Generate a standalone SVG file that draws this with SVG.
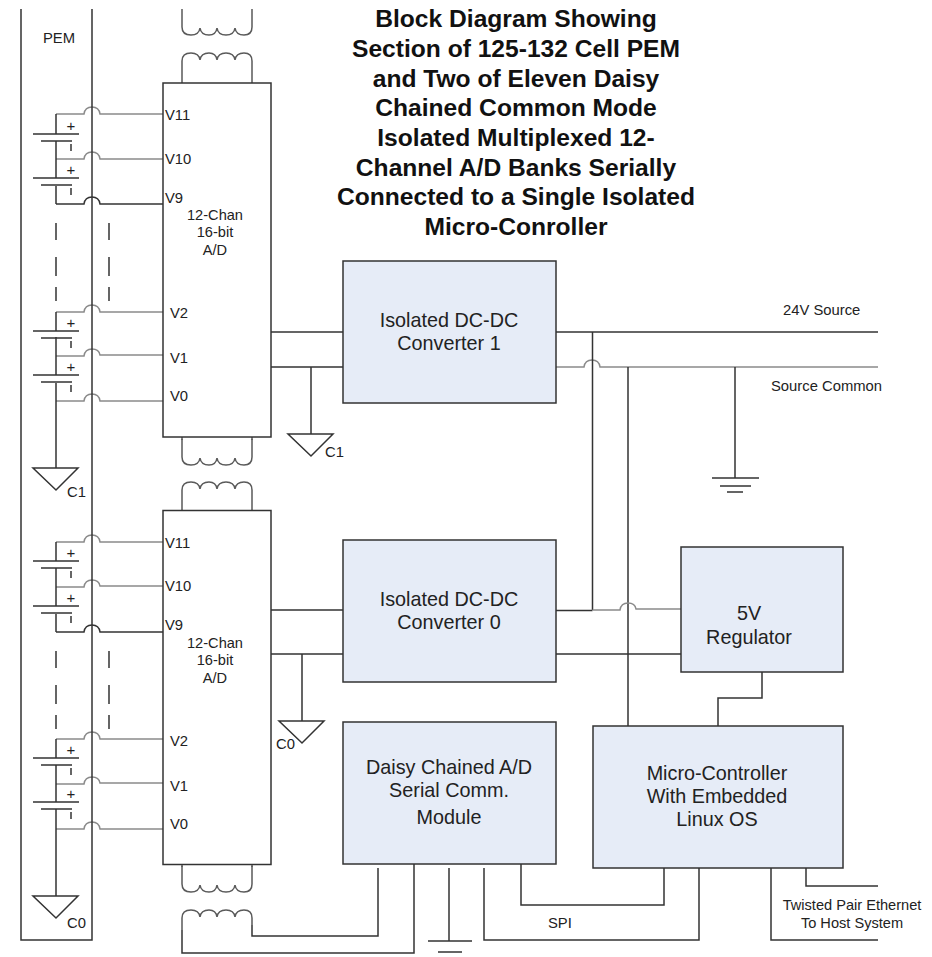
<svg xmlns="http://www.w3.org/2000/svg" width="932" height="957" viewBox="0 0 932 957">
<defs>
<style>
text{font-family:"Liberation Sans",Arial,sans-serif;fill:#222}
.w{fill:none;stroke:#333;stroke-width:1.5}
.g{fill:none;stroke:#8a8a8a;stroke-width:1.5}
.c{fill:none;stroke:#5a5a5a;stroke-width:1.5}
.b{fill:#e6ecf7;stroke:#333;stroke-width:1.5}
.a{fill:#fff;stroke:#333;stroke-width:1.5}
.s{font-size:14.8px}
.l{font-size:19.8px;text-anchor:middle}
.m{font-size:14.6px;text-anchor:middle}
.t{font-size:24.6px;font-weight:bold;text-anchor:middle;fill:#111}
.p{font-size:15px;text-anchor:middle}
</style>
<path id="coilD" class="c" d="M0 0V18Q0 26 9 26Q17 26 18 19Q19 26 27 26Q34 26 35 19Q36 26 44 26Q52 26 53 19Q54 26 62 26Q70 26 70 18V0"/>
<path id="coilU" class="c" d="M0 30V8Q0 0 9 0Q17 0 18 7Q19 0 27 0Q34 0 35 7Q36 0 44 0Q52 0 53 7Q54 0 62 0Q70 0 70 8V30"/>
<g id="cell">
<path class="w" d="M33 0H79M41 7H72"/>
<text class="p" x="71" y="-3">+</text>
<path class="w" d="M71 10V17"/>
</g>
</defs>

<g id="connectors">
<path class="g" d="M56 114H84Q85 107 92 107Q99 107 100 114H163"/>
<path class="g" d="M56 159H84Q85 152 92 152Q99 152 100 159H163"/>
<path class="w" d="M56 204H84Q85 197 92 197Q99 197 100 204H163"/>
<path class="w" d="M56 114V134M56 141V178M56 186V204"/>
<path class="w" d="M56 223V240M56 257V276M56 287V301M109 223V240M109 257V276M109 287V301M181 223V240M181 257V276M181 287V301"/>
<path class="g" d="M56 312H84Q85 305 92 305Q99 305 100 312H163"/>
<path class="g" d="M56 356H84Q85 349 92 349Q99 349 100 355H163"/>
<path class="g" d="M56 401H84Q85 394 92 394Q99 394 100 401H163"/>
<path class="w" d="M56 312V331M56 337V375M56 383V468"/>
<path class="g" d="M56 542H84Q85 535 92 535Q99 535 100 542H163"/>
<path class="g" d="M56 587H84Q85 580 92 580Q99 580 100 586H163"/>
<path class="w" d="M56 632H84Q85 625 92 625Q99 625 100 632H163"/>
<path class="w" d="M56 542V561M56 568V606M56 614V632"/>
<path class="w" d="M56 651V668M56 685V704M56 715V729M109 651V668M109 685V704M109 715V729M181 651V668M181 685V704M181 715V729"/>
<path class="g" d="M56 739H84Q85 732 92 732Q99 732 100 739H163"/>
<path class="g" d="M56 784H84Q85 777 92 777Q99 777 100 783H163"/>
<path class="g" d="M56 829H84Q85 822 92 822Q99 822 100 829H163"/>
<path class="w" d="M56 739V758M56 765V802M56 809V896"/>
<path class="w" d="M271 332H343M271 367H343M311 367V434M271 610H343M271 654H343M302 654V721"/>
<path class="w" d="M556 332H878"/>
<path class="g" d="M556 367H584Q585 360 592 360Q599 360 600 367H878"/>
<path class="w" d="M592.500 332V610M556 610.500H592.500M628 367V726"/>
<path class="g" d="M592.500 610H620Q621 603 628 603Q635 603 636 609H681"/>
<path class="w" d="M556 654H681M735 367V478M712 478H759M720 486H751M727 492H743"/>
<path class="w" d="M762 672V698H718V726"/>
<path class="w" d="M252 925V936H378V868M182 930V953H414V864"/>
<path class="w" d="M449 868V941M428 941H472M438 952H462"/>
<path class="w" d="M484 868V940H699V868M521 864V905H664V868M771 868V940H878M806 868V886H878"/>
<path class="c" d="M182 437V440M252 437V440M182 864V867M252 864V867"/>
</g>

<g id="pem">
<path class="w" d="M21 9V940H92V9"/>
<text class="s" x="43" y="43">PEM</text>
</g>

<g id="cells">
<use href="#cell" y="134"/><use href="#cell" y="178"/><use href="#cell" y="331"/><use href="#cell" y="375"/>
<use href="#cell" y="561"/><use href="#cell" y="606"/><use href="#cell" y="758"/><use href="#cell" y="802"/>
</g>

<g id="coils">
<use href="#coilD" x="182" y="9"/>
<use href="#coilU" x="182" y="53"/>
<use href="#coilD" x="182" y="439"/>
<use href="#coilU" x="182" y="482"/>
<use href="#coilD" x="182" y="866"/>
<path class="c" d="M182 930V918Q182 910 191 910Q199 910 200 917Q201 910 209 910Q216 910 217 917Q218 910 226 910Q234 910 235 917Q236 910 244 910Q252 910 252 918V925"/>
</g>

<g id="ad-bank-1">
<rect class="a" x="163" y="83" width="108" height="354"/>
<text class="s" x="165" y="120">V11</text>
<text class="s" x="165" y="164">V10</text>
<text class="s" x="165" y="203">V9</text>
<text class="s" x="170" y="318">V2</text>
<text class="s" x="170" y="363">V1</text>
<text class="s" x="170" y="401">V0</text>
<text class="m" x="215" y="220">12-Chan</text>
<text class="m" x="215" y="237">16-bit</text>
<text class="m" x="215" y="255">A/D</text>
</g>

<g id="ad-bank-0">
<rect class="a" x="163" y="510.500" width="108" height="354"/>
<text class="s" x="165" y="548">V11</text>
<text class="s" x="165" y="591">V10</text>
<text class="s" x="165" y="630">V9</text>
<text class="s" x="170" y="746">V2</text>
<text class="s" x="170" y="791">V1</text>
<text class="s" x="170" y="829">V0</text>
<text class="m" x="215" y="648">12-Chan</text>
<text class="m" x="215" y="665">16-bit</text>
<text class="m" x="215" y="683">A/D</text>
</g>

<g id="grounds">
<path class="w" d="M33 468H78L56 490ZM288 434H333L311 456ZM33 896H78L56 918ZM279 721H324L302 743Z"/>
<text class="s" x="67" y="497">C1</text>
<text class="s" x="325" y="457">C1</text>
<text class="s" x="67" y="928">C0</text>
<text class="s" x="276" y="749">C0</text>
</g>

<g id="converter-1">
<rect class="b" x="343" y="261" width="213" height="142"/>
<text class="l" x="449" y="327">Isolated DC-DC</text>
<text class="l" x="449" y="350">Converter 1</text>
</g>
<g id="converter-0">
<rect class="b" x="343" y="540" width="213" height="142"/>
<text class="l" x="449" y="606">Isolated DC-DC</text>
<text class="l" x="449" y="629">Converter 0</text>
</g>
<g id="daisy">
<rect class="b" x="343" y="722" width="213" height="142"/>
<text class="l" x="449" y="774">Daisy Chained A/D</text>
<text class="l" x="449" y="797">Serial Comm.</text>
<text class="l" x="449" y="824">Module</text>
</g>
<g id="regulator">
<rect class="b" x="681" y="547" width="162" height="125"/>
<text class="l" x="749" y="620">5V</text>
<text class="l" x="749" y="644">Regulator</text>
</g>
<g id="micro">
<rect class="b" x="593" y="726" width="250" height="142"/>
<text class="l" x="717" y="780">Micro-Controller</text>
<text class="l" x="717" y="803">With Embedded</text>
<text class="l" x="717" y="826">Linux OS</text>
</g>

<g id="labels">
<text class="s" x="783" y="315">24V Source</text>
<text class="s" x="771" y="391">Source Common</text>
<text class="s" x="548" y="928">SPI</text>
<text class="m" x="852" y="910">Twisted Pair Ethernet</text>
<text class="m" x="852" y="928">To Host System</text>
</g>

<g id="title">
<text class="t" x="516" y="27">Block Diagram Showing</text>
<text class="t" x="516" y="57">Section of 125-132 Cell PEM</text>
<text class="t" x="516" y="87">and Two of Eleven Daisy</text>
<text class="t" x="516" y="116">Chained Common Mode</text>
<text class="t" x="516" y="146">Isolated Multiplexed 12-</text>
<text class="t" x="516" y="176">Channel A/D Banks Serially</text>
<text class="t" x="516" y="205">Connected to a Single Isolated</text>
<text class="t" x="516" y="235">Micro-Conroller</text>
</g>
</svg>
